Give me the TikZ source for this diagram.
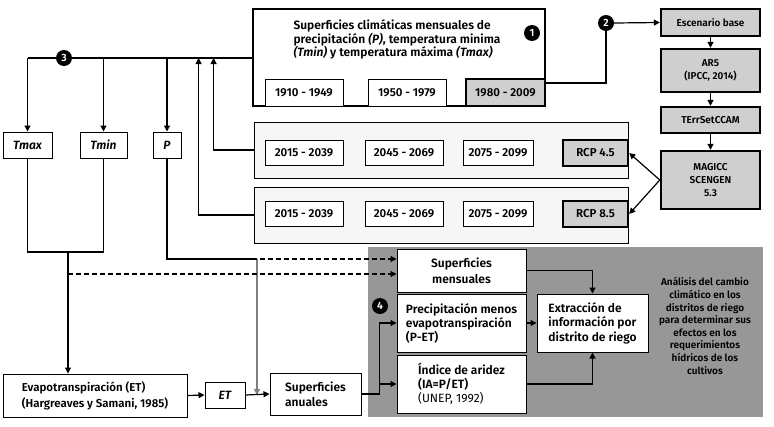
\documentclass[tikz,border=0pt]{standalone}
\usepackage{fontspec}
\setmainfont{Fira Sans}[BoldFont={* SemiBold},BoldItalicFont={* SemiBold Italic}]
\usetikzlibrary{arrows.meta}
\definecolor{boxgray}{HTML}{CFCFCF}
\definecolor{zonegray}{HTML}{979797}
\definecolor{panelgray}{HTML}{F6F6F6}

\begin{document}
\begin{tikzpicture}[x=1pt,y=-1pt,
  every node/.style={font=\bfseries\fontsize{12}{13.5}\selectfont},
  box/.style={draw,fill=white,line width=1pt,inner sep=0pt,align=center},
  yr/.style={box,minimum height=25pt,font=\bfseries\fontsize{11.5}{12}\selectfont},
  heavy/.style={box,fill=boxgray,line width=2.4pt,font=\bfseries\fontsize{11.5}{12}\selectfont},
  side/.style={heavy,minimum width=99pt,font=\bfseries\fontsize{10}{13}\selectfont},
  var/.style={box,minimum height=26pt,font=\bfseries\itshape\fontsize{12}{12}\selectfont},
  stage/.style={box,minimum width=129pt,font=\bfseries\fontsize{12}{14}\selectfont},
  panel/.style={draw,fill=panelgray,line width=0.8pt,inner sep=0pt,minimum width=374pt,minimum height=56pt},
  num/.style={circle,fill=black,text=white,inner sep=0pt,minimum size=16pt,font=\bfseries\fontsize{10.5}{10}\selectfont},
  link/.style={line width=1.2pt},
  >={Triangle[length=6pt,width=6pt]}]
  \useasboundingbox (0,0) rectangle (774,426);
  \fill[zonegray] (368,247) rectangle (763,417);

  \node[box,line width=2.6pt,minimum width=292pt,minimum height=97pt] (clima) at (399,57.5) {};
  \node[anchor=west,align=left] (climatxt) at (290,39.5) {Superficies climáticas mensuales de\\precipitación \textit{(P)}, temperatura minima\\\textit{(Tmin)} y temperatura máxima \textit{(Tmax)}};
  \node[yr,minimum width=78pt,minimum height=27pt] (h1) at (304,92.5) {1910 - 1949};
  \node[yr,minimum width=78pt,minimum height=27pt] (h2) at (407,92.5) {1950 - 1979};
  \node[heavy,minimum width=79pt,minimum height=27pt] (h3) at (505.5,92.5) {1980 - 2009};

  \node[panel] (rcpa) at (441,150) {};
  \node[panel] (rcpb) at (441,215) {};
  \foreach \r/\y in {a/153,b/214} {
    \node[yr,minimum width=78pt] (\r1) at (304,\y) {2015 - 2039};
    \node[yr,minimum width=78pt] (\r2) at (404,\y) {2045 - 2069};
    \node[yr,minimum width=70pt] (\r3) at (498,\y) {2075 - 2099};
  }
  \node[heavy,minimum width=65pt,minimum height=26pt] (rcp45) at (595.5,153) {RCP 4.5};
  \node[heavy,minimum width=65pt,minimum height=26pt] (rcp85) at (595.5,214) {RCP 8.5};

  \node[side,minimum height=27pt] (esc) at (710.5,22.5) {Escenario base};
  \node[side,minimum height=43pt] (ar5) at (710.5,70.5) {AR5\\(IPCC, 2014)};
  \node[side,minimum height=26pt] (terr) at (710.5,120) {TErrSetCCAM};
  \node[side,minimum height=58pt] (magicc) at (710.5,180) {MAGICC\\SCENGEN\\5.3};

  \node[var,minimum width=49pt] (tmax) at (27.5,145) {Tmax};
  \node[var,minimum width=47pt] (tmin) at (103.5,145) {Tmin};
  \node[var,minimum width=28pt] (p) at (167,145) {P};

  \node[box,align=left,minimum width=184pt,minimum height=43pt,font=\bfseries\fontsize{11.5}{16}\selectfont] (evap) at (95,395.5) {Evapotranspiración (ET)\\(Hargreaves y Samani, 1985)};
  \node[var,minimum width=40pt] (et) at (225,395) {ET};
  \node[box,align=left,minimum width=91pt,minimum height=42pt,font=\bfseries\fontsize{12}{15}\selectfont] (sanu) at (315.5,394) {Superficies\\anuales};

  \node[stage,minimum height=43pt,font=\bfseries\fontsize{12}{16}\selectfont] (smens) at (461.5,270.5) {Superficies\\mensuales};
  \node[stage,align=left,minimum height=58pt] (pet) at (461.5,323) {Precipitación menos\\evapotranspiración\\(P-ET)};
  \node[stage,align=left,minimum height=58pt] (ind) at (461.5,384) {Índice de aridez\\(IA=P/ET)\\{\mdseries (UNEP, 1992)}};
  \node[stage,align=left,minimum width=111pt,minimum height=58pt,font=\bfseries\fontsize{12}{14.5}\selectfont] (extr) at (592.5,323) {Extracción de\\información por\\distrito de riego};
  \node[align=center,font=\bfseries\fontsize{10}{12.6}\selectfont] (analisis) at (705,326) {Análisis del cambio\\climático en los\\distritos de riego\\para determinar sus\\efectos en los\\requerimientos\\hídricos de los\\cultivos};

  \coordinate (top) at (0,58);
  \coordinate (tjoin) at (68,252);
  \coordinate (pdrop) at (257,259);
  \coordinate (dstart) at (212,259);
  \coordinate (tdash) at (68,274);
  \draw[link] (tmax.north |- top) -- (clima.west |- top);
  \draw[link,->] (tmax.north |- top) -- (tmax.north);
  \draw[link,->] (tmin.north |- top) -- (tmin.north);
  \draw[link,->] (p.north |- top) -- (p.north);
  \draw[link,->] (rcpa.west) -| ([xshift=-40pt]rcpa.west |- top);
  \draw[link,->] (rcpb.west) -| ([xshift=-55pt]rcpb.west |- top);
  \draw[link] ([yshift=-25.5pt]clima.east) -| (606,30);
  \draw[link,->] (magicc.west) -- (rcp45.east);
  \draw[link,->] (magicc.west) -- (rcp85.east);
  \draw[link,->] (esc.south) -- (ar5.north);
  \draw[link,->] (ar5.south) -- (terr.north);
  \draw[link,->] (terr.south) -- (magicc.north);

  \draw[link] (tmax.south) |- (tmin.south |- tjoin) -- (tmin.south);
  \draw[link,->] (tjoin) -- (tjoin |- evap.north);
  \draw[link] (p.south) |- (pdrop);
  \draw[link,gray,->] (pdrop) -- (pdrop |- et.east);
  \draw[link,dash pattern=on 5pt off 3pt,->] (dstart) -- (dstart -| smens.west);
  \draw[link,dash pattern=on 5pt off 3pt,->] (tdash) -- (tdash -| smens.west);
  \draw[link,->] (evap.east) -- (et.west);
  \draw[link,->] (et.east) -- (sanu.west);
  \draw[link,->] (sanu.east) -- ++(18,0) |- (pet.west);
  \draw[link,->] ([xshift=18pt]sanu.east |- ind.west) -- (ind.west);
  \draw[link,->] (smens.east) -| (extr.north);
  \draw[link,->] (pet.east) -- (extr.west);
  \draw[link,->] (ind.east) -| (extr.south);

  \node[num] (n1) at (532,33) {1};
  \node[num] (n2) at (606,23) {2};
  \node[num] (n3) at (64,58) {3};
  \node[num] (n4) at (380,306) {4};
  \draw[link,->] (n2.east) -- (esc.west);
\end{tikzpicture}
\end{document}
